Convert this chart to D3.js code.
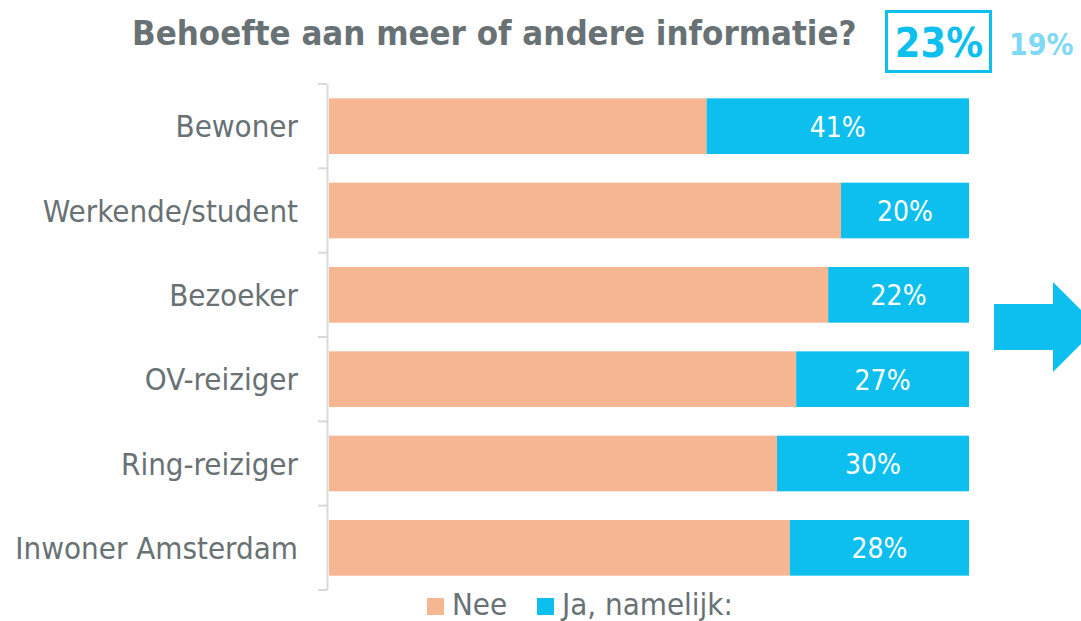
<!DOCTYPE html>
<html>
<head>
<meta charset="utf-8">
<script src="https://cdn.jsdelivr.net/npm/d3@7"></script>
<style>
  body { margin: 0; background: #fff; }
  text { font-family: "DejaVu Sans Condensed", "DejaVu Sans", sans-serif; }
</style>
</head>
<body>
<script>
// Chart data
var categories = ["Bewoner", "Werkende/student", "Bezoeker", "OV-reiziger", "Ring-reiziger", "Inwoner Amsterdam"];
var jaValues = [41, 20, 22, 27, 30, 28];
var neeValues = [59, 80, 78, 73, 70, 72];
var seriesNames = ["Nee", "Ja, namelijk:"];
var totalValue = "23%";
var compareValue = "19%";

var width = 1081, height = 621;
var grey = "#687174";
var colorNee = "#f6b692";
var colorJa = "#0dbfee";

var svg = d3.select("body").append("svg")
            .attr("width", width)
            .attr("height", height);

// Scales
var x = d3.scaleLinear().domain([0, 100]).range([329, 969]);
var y = d3.scaleBand().domain(categories).range([84, 590]).paddingInner(0.34).paddingOuter(0.17);

// Axis line and ticks between categories
svg.append("line")
   .attr("x1", 327.5).attr("x2", 327.5)
   .attr("y1", 84).attr("y2", 590)
   .style("stroke", "#d9d9d9").style("stroke-width", 2);

var step = y.step();
svg.selectAll(".tick")
   .data(d3.range(categories.length + 1))
   .enter().append("line")
   .attr("x1", 318).attr("x2", 327)
   .attr("y1", function(d){ return 84 + d * step; })
   .attr("y2", function(d){ return 84 + d * step; })
   .style("stroke", "#d9d9d9").style("stroke-width", 2);

// Category labels
svg.selectAll(".catLabel")
   .data(categories)
   .enter().append("text")
   .attr("x", 298)
   .attr("y", function(d){ return y(d) + y.bandwidth() / 2; })
   .attr("dy", "0.36em")
   .attr("text-anchor", "end")
   .style("font-size", "31px")
   .style("fill", grey)
   .text(function(d){ return d; });

// Bars
var rows = categories.map(function(c, i){ return {cat: c, nee: neeValues[i], ja: jaValues[i]}; });

svg.selectAll(".nee")
   .data(rows)
   .enter().append("rect")
   .attr("x", x(0))
   .attr("y", function(d){ return y(d.cat); })
   .attr("width", function(d){ return x(d.nee) - x(0); })
   .attr("height", y.bandwidth())
   .style("fill", colorNee);

svg.selectAll(".ja")
   .data(rows)
   .enter().append("rect")
   .attr("x", function(d){ return x(d.nee); })
   .attr("y", function(d){ return y(d.cat); })
   .attr("width", function(d){ return x(100) - x(d.nee); })
   .attr("height", y.bandwidth())
   .style("fill", colorJa);

svg.selectAll(".jaLabel")
   .data(rows)
   .enter().append("text")
   .attr("x", function(d){ return (x(d.nee) + x(100)) / 2; })
   .attr("y", function(d){ return y(d.cat) + y.bandwidth() / 2; })
   .attr("dy", "0.37em")
   .attr("text-anchor", "middle")
   .style("font-size", "28px")
   .style("fill", "#fff")
   .text(function(d){ return d.ja + "%"; });

// Title
svg.append("text")
   .attr("x", 132).attr("y", 45)
   .style("font-size", "34.5px")
   .style("font-weight", "bold")
   .style("fill", grey)
   .text("Behoefte aan meer of andere informatie?");

// Boxed total
svg.append("rect")
   .attr("x", 886.5).attr("y", 11.5)
   .attr("width", 104).attr("height", 60)
   .style("fill", "none")
   .style("stroke", colorJa)
   .style("stroke-width", 3);

svg.append("text")
   .attr("x", 939).attr("y", 57)
   .attr("text-anchor", "middle")
   .style("font-size", "41px")
   .style("font-weight", "bold")
   .style("fill", colorJa)
   .text(totalValue);

svg.append("text")
   .attr("x", 1009).attr("y", 55)
   .style("font-size", "30px")
   .style("font-weight", "bold")
   .style("fill", "#7fd8f5")
   .text(compareValue);

// Arrow
svg.append("path")
   .attr("d", "M994,304 L1053,304 L1053,282 L1098,327 L1053,372 L1053,350 L994,350 Z")
   .style("fill", colorJa);

// Legend
var legend = svg.selectAll(".legend")
   .data(seriesNames)
   .enter().append("g")
   .attr("transform", function(d, i){ return "translate(" + (i == 0 ? 427 : 537) + ",0)"; });

legend.append("rect")
   .attr("x", 0).attr("y", 598)
   .attr("width", 17).attr("height", 17)
   .style("fill", function(d, i){ return i == 0 ? colorNee : colorJa; });

legend.append("text")
   .attr("x", 25).attr("y", 615)
   .style("font-size", "31px")
   .style("fill", grey)
   .text(function(d){ return d; });
</script>
</body>
</html>
